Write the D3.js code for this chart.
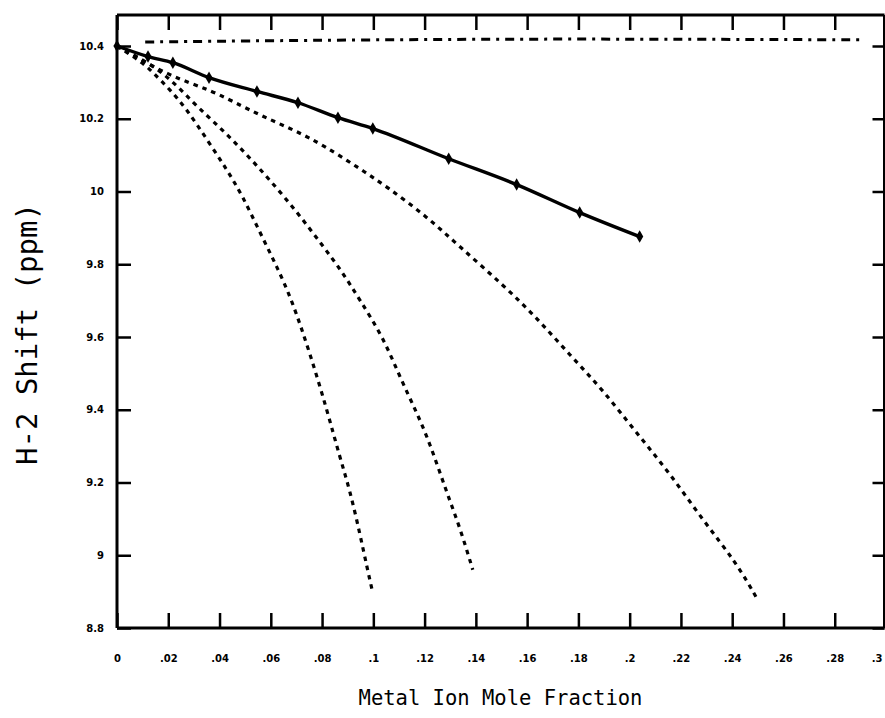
<!DOCTYPE html>
<html>
<head>
<meta charset="utf-8">
<script src="https://cdn.jsdelivr.net/npm/d3@7"></script>
<style>
  html, body { margin: 0; padding: 0; background: #fff; }
  svg { display: block; }
</style>
</head>
<body>
<svg id="chart" width="885" height="718"></svg>
<script>
// ---- data ----
const xTickValues = [0, 0.02, 0.04, 0.06, 0.08, 0.1, 0.12, 0.14, 0.16, 0.18, 0.2, 0.22, 0.24, 0.26, 0.28, 0.3];
const xTickLabels = ["0", ".02", ".04", ".06", ".08", ".1", ".12", ".14", ".16", ".18", ".2", ".22", ".24", ".26", ".28", ".3"];
const yTickValues = [8.8, 9.0, 9.2, 9.4, 9.6, 9.8, 10.0, 10.2, 10.4];
const yTickLabels = ["8.8", "9", "9.2", "9.4", "9.6", "9.8", "10", "10.2", "10.4"];

// experimental (solid line with markers)
const measuredX = [0, 0.0121, 0.0218, 0.0359, 0.0546, 0.0706, 0.0862, 0.0998, 0.1294, 0.1559, 0.1805, 0.2039];
const measuredY = [10.40, 10.371, 10.354, 10.313, 10.275, 10.244, 10.203, 10.173, 10.090, 10.019, 9.942, 9.876];

// steepest dashed curve
const curveAX = [0, 0.0101, 0.0140, 0.0207, 0.0273, 0.0351, 0.0429, 0.0491, 0.0558, 0.0624, 0.0682, 0.0752, 0.0819, 0.0869, 0.0908, 0.0947, 0.0975, 0.0998];
const curveAY = [10.40, 10.354, 10.327, 10.280, 10.225, 10.143, 10.060, 9.986, 9.887, 9.793, 9.702, 9.557, 9.400, 9.270, 9.180, 9.061, 8.968, 8.896];

// middle dashed curve
const curveBX = [0, 0.0175, 0.0296, 0.0402, 0.0499, 0.0596, 0.0702, 0.0799, 0.0881, 0.0947, 0.1037, 0.1103, 0.1170, 0.1220, 0.1287, 0.1337, 0.1388];
const curveBY = [10.40, 10.335, 10.244, 10.176, 10.107, 10.032, 9.944, 9.854, 9.777, 9.702, 9.601, 9.491, 9.391, 9.309, 9.171, 9.078, 8.960];

// widest dashed curve
const curveCX = [0, 0.0207, 0.0363, 0.0491, 0.0596, 0.0702, 0.0803, 0.0936, 0.1053, 0.1209, 0.1337, 0.1505, 0.1637, 0.1766, 0.1895, 0.2027, 0.2156, 0.2285, 0.2417, 0.2495];
const curveCY = [10.40, 10.316, 10.280, 10.233, 10.198, 10.165, 10.128, 10.068, 10.013, 9.931, 9.848, 9.744, 9.653, 9.551, 9.455, 9.336, 9.226, 9.097, 8.979, 8.883];

// dash-dot reference line near the top
const refX = [0.011, 0.05, 0.1, 0.15, 0.2, 0.25, 0.2897];
const refY = [10.411, 10.414, 10.417, 10.419, 10.419, 10.418, 10.417];

const xTitle = "Metal Ion Mole Fraction";
const yTitle = "H-2 Shift (ppm)";

// ---- drawing ----
const svg = d3.select("#chart");
const x = d3.scaleLinear().domain([0, 0.3]).range([117, 886]);
const y = d3.scaleLinear().domain([8.8, 10.4]).range([628, 46]);
const frameTop = 15;
const frameRight = x(0.3) - 1.5;

const zip = (xs, ys) => xs.map((v, i) => [v, ys[i]]);
const smoothLine = d3.line().x(d => x(d[0])).y(d => y(d[1])).curve(d3.curveBasis);
const plainLine = d3.line().x(d => x(d[0])).y(d => y(d[1])).curve(d3.curveMonotoneX);

// frame
const frame = svg.append("g").attr("stroke", "#000").attr("stroke-width", 3).attr("fill", "none");
frame.append("line").attr("x1", x(0)).attr("x2", frameRight).attr("y1", y(8.8)).attr("y2", y(8.8));
frame.append("line").attr("x1", x(0)).attr("x2", frameRight).attr("y1", frameTop).attr("y2", frameTop);
frame.append("line").attr("x1", x(0)).attr("x2", x(0)).attr("y1", frameTop).attr("y2", y(8.8));
frame.append("line").attr("x1", frameRight).attr("x2", frameRight).attr("y1", frameTop).attr("y2", y(8.8));

// axes with inward ticks
const tickFont = "bold 10px 'DejaVu Sans', sans-serif";

const bottomAxis = d3.axisBottom(x).tickValues(xTickValues).tickFormat((d, i) => xTickLabels[i])
  .tickSizeInner(-15).tickSizeOuter(0).tickPadding(27);
const gB = svg.append("g").attr("transform", `translate(0,${y(8.8)})`).call(bottomAxis);
gB.select(".domain").remove();
gB.selectAll(".tick line").attr("stroke", "#000").attr("stroke-width", 2.5);
gB.selectAll(".tick text").style("font", tickFont).attr("fill", "#000")
  .filter(d => d === 0.3).attr("text-anchor", "end").attr("dx", -4);

const topAxis = d3.axisTop(x).tickValues(xTickValues).tickFormat("").tickSizeInner(-15).tickSizeOuter(0);
const gT = svg.append("g").attr("transform", `translate(0,${frameTop})`).call(topAxis);
gT.select(".domain").remove();
gT.selectAll(".tick line").attr("stroke", "#000").attr("stroke-width", 2.5);

const leftAxis = d3.axisLeft(y).tickValues(yTickValues).tickFormat((d, i) => yTickLabels[i])
  .tickSizeInner(-14).tickSizeOuter(0).tickPadding(13);
const gL = svg.append("g").attr("transform", `translate(${x(0)},0)`).call(leftAxis);
gL.select(".domain").remove();
gL.selectAll(".tick line").attr("stroke", "#000").attr("stroke-width", 2.5);
gL.selectAll(".tick text").style("font", tickFont).attr("fill", "#000");

const rightAxis = d3.axisRight(y).tickValues(yTickValues).tickFormat("").tickSizeInner(-12).tickSizeOuter(0);
const gR = svg.append("g").attr("transform", `translate(${frameRight},0)`).call(rightAxis);
gR.select(".domain").remove();
gR.selectAll(".tick line").attr("stroke", "#000").attr("stroke-width", 2.5);

// curves
const plot = svg.append("g").attr("fill", "none").attr("stroke", "#000");

plot.append("path").datum(zip(refX, refY)).attr("d", smoothLine)
  .attr("stroke-width", 3).attr("stroke-dasharray", "9,6,3,6");

[[curveAX, curveAY], [curveBX, curveBY], [curveCX, curveCY]].forEach(([xs, ys]) => {
  plot.append("path").datum(zip(xs, ys)).attr("d", smoothLine)
    .attr("stroke-width", 3.2).attr("stroke-dasharray", "4.5,5");
});

const measured = zip(measuredX, measuredY);
plot.append("path").datum(measured).attr("d", plainLine).attr("stroke-width", 3.4);

svg.append("g").selectAll("path").data(measured).join("path")
  .attr("transform", d => `translate(${x(d[0])},${y(d[1])})`)
  .attr("d", d3.symbol().type(d3.symbolDiamond).size(45))
  .attr("fill", "#000");

// titles
svg.append("text")
  .attr("x", (x(0) + x(0.3)) / 2 - 1).attr("y", 705)
  .attr("text-anchor", "middle")
  .style("font", "20.5px 'DejaVu Sans Mono', monospace")
  .attr("fill", "#000")
  .text(xTitle);

svg.append("text")
  .attr("transform", "translate(37,334) rotate(-90)")
  .attr("text-anchor", "middle")
  .style("font", "29px 'DejaVu Sans Mono', monospace")
  .attr("fill", "#000")
  .text(yTitle);
</script>
</body>
</html>
